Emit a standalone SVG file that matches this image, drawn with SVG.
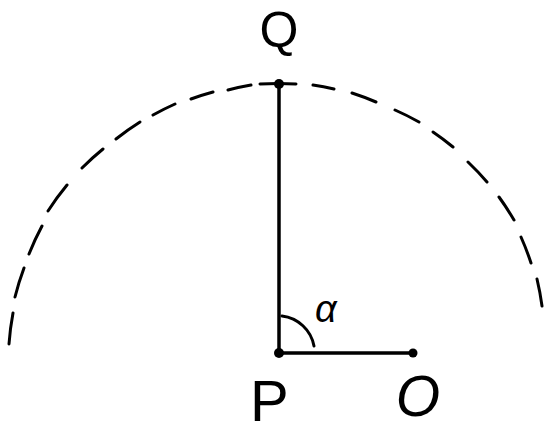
<svg xmlns="http://www.w3.org/2000/svg" width="545" height="434" viewBox="0 0 545 434">
<style>
.dash{fill:none;stroke:#000;stroke-width:3;stroke-linecap:round}
.line{fill:none;stroke:#000;stroke-width:3.5;stroke-linecap:round}
.dot{fill:#000}
.lbl{font-family:"Liberation Sans",Arial,sans-serif;fill:#000}
</style>
<rect width="545" height="434" fill="#fff"/>
<g id="circle">
<path class="dash" d="M9,344 A270,270 0 0 1 13,313 M15,297 A270,270 0 0 1 24,268 M29,254 A270,270 0 0 1 42,226 M48,211 A270,270 0 0 1 67,185 M82,168 A270,270 0 0 1 103,149 M116,139 A270,270 0 0 1 140,122 M153,115 A270,270 0 0 1 175,104 M191,99 A270,270 0 0 1 213,92 M228,90 A270,270 0 0 1 251,85 M260,84 A270,270 0 0 1 296,84 M313,85 A270,270 0 0 1 334,89 M352,93 A270,270 0 0 1 376,102 M395,110 A270,270 0 0 1 419,122 M433,132 A270,270 0 0 1 453,147 M468,162 A270,270 0 0 1 487,182 M499,197 A270,270 0 0 1 514,220 M521,237 A270,270 0 0 1 531,263 M537,279 A270,270 0 0 1 542,306"/>
</g>
<g id="connectors">
<line class="line" x1="279" y1="83" x2="279" y2="353"/>
<line class="line" x1="279" y1="353" x2="413" y2="353"/>
<path class="dash" d="M282,316 A37,37 0 0 1 314,346"/>
</g>
<g id="Q">
<circle class="dot" cx="279" cy="84" r="5"/>
<text class="lbl" x="279" y="47" font-size="50" text-anchor="middle">Q</text>
</g>
<g id="P">
<circle class="dot" cx="279" cy="353" r="5"/>
<text class="lbl" x="250" y="421" font-size="58">P</text>
</g>
<g id="O">
<circle class="dot" cx="413" cy="353" r="4.5"/>
<text class="lbl" x="418" y="416" font-size="57" font-style="italic" text-anchor="middle">O</text>
</g>
<g id="alpha">
<text class="lbl" x="315" y="322" font-size="38" font-style="italic">α</text>
</g>
</svg>
